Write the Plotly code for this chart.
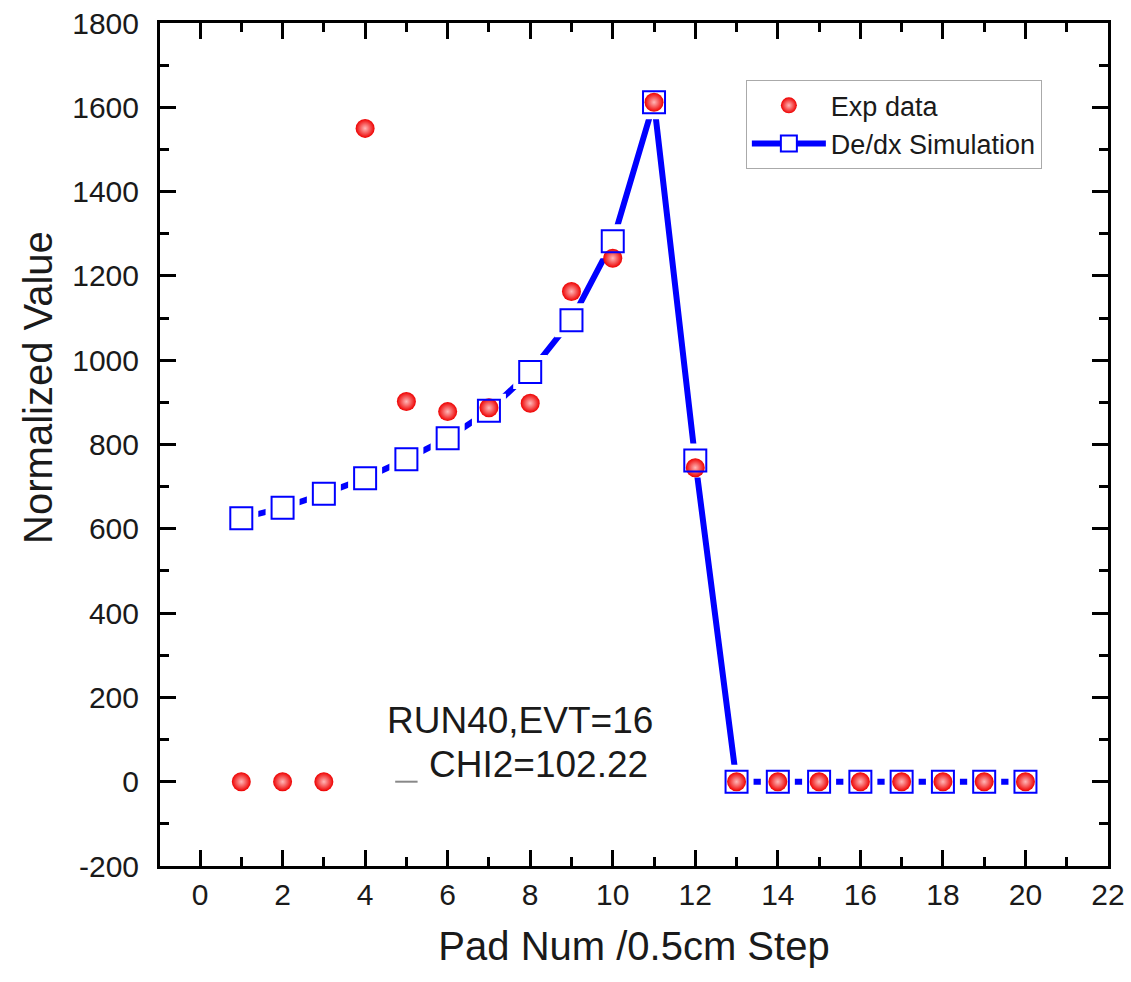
import plotly.graph_objects as go

pads = list(range(1, 21))
exp_values = [0, 0, 0, 1550, 902, 878, 887, 898, 1163, 1242, 1612, 745,
              0, 0, 0, 0, 0, 0, 0, 0]
sim_values = [625, 650, 683, 720, 765, 815, 880, 972, 1095, 1282, 1612, 762,
              0, 0, 0, 0, 0, 0, 0, 0]
dash_x = [5]
dash_y = [0]
x_ticks = list(range(0, 23, 2))
y_ticks = list(range(-200, 1801, 200))
y_ticktext = [str(v) for v in y_ticks]

FONT = "Liberation Sans, Arial, sans-serif"
BLUE = "#0000ff"
TXT = "#1a1a1a"

fig = go.Figure()

# simulation line (with legend entry)
fig.add_trace(go.Scatter(
    x=pads, y=sim_values, mode="lines+markers", name="De/dx Simulation",
    line=dict(color=BLUE, width=6),
    marker=dict(symbol="square", size=22, color="white",
                line=dict(color=BLUE, width=2)),
    legendrank=2,
))
# white gaps around symbols
fig.add_trace(go.Scatter(
    x=pads, y=sim_values, mode="markers", showlegend=False, hoverinfo="skip",
    marker=dict(symbol="square", size=34, color="white", line=dict(width=0)),
))
# experimental data
fig.add_trace(go.Scatter(
    x=pads, y=exp_values, mode="markers", name="Exp data",
    marker=dict(symbol="circle", size=19, color="#ee0000",
                gradient=dict(type="radial", color="#ffb8b8"),
                line=dict(width=0)),
    legendrank=1,
))
# hollow squares on top
fig.add_trace(go.Scatter(
    x=pads, y=sim_values, mode="markers", showlegend=False, hoverinfo="skip",
    marker=dict(symbol="square-open", size=22, color=BLUE,
                line=dict(color=BLUE, width=2)),
))
# small grey dash artifact
fig.add_trace(go.Scatter(
    x=dash_x, y=dash_y, mode="markers", showlegend=False, hoverinfo="skip",
    marker=dict(symbol="line-ew", size=16, color="#888888",
                line=dict(color="#888888", width=2)),
))

fig.add_annotation(
    x=0.237, y=0.173, xref="paper", yref="paper", xanchor="left", yanchor="middle",
    text="RUN40,EVT=16", showarrow=False,
    font=dict(family=FONT, size=37, color=TXT),
)
fig.add_annotation(
    x=0.282, y=0.120, xref="paper", yref="paper", xanchor="left", yanchor="middle",
    text="CHI2=102.22", showarrow=False,
    font=dict(family=FONT, size=37, color=TXT),
)
# y-axis title
fig.add_annotation(
    x=-0.129, y=0.568, xref="paper", yref="paper", xanchor="center", yanchor="middle",
    text="Normalized Value", showarrow=False, textangle=-90,
    font=dict(family=FONT, size=40, color=TXT),
)

axis_common = dict(
    showline=True, linecolor="black", linewidth=3, mirror="allticks",
    ticks="inside", ticklen=16, tickwidth=3, tickcolor="black",
    showgrid=False, zeroline=False, automargin=False,
    tickfont=dict(family=FONT, size=30, color=TXT),
)

fig.update_xaxes(
    range=[-0.97, 22], tickvals=x_ticks,
    minor=dict(ticks="inside", ticklen=9, tickwidth=3, tickcolor="black", dtick=1, tick0=0,
               showgrid=False),
    title=dict(text="Pad Num /0.5cm Step", font=dict(family=FONT, size=40, color=TXT),
               standoff=22),
    **axis_common,
)
fig.update_yaxes(
    range=[-200, 1800], tickvals=y_ticks, ticktext=y_ticktext,
    ticklabelstandoff=12,
    minor=dict(ticks="inside", ticklen=9, tickwidth=3, tickcolor="black", dtick=100, tick0=0,
               showgrid=False),
    **axis_common,
)

fig.update_layout(
    width=1131, height=982,
    margin=dict(l=160, r=23, t=23, b=116, autoexpand=False),
    paper_bgcolor="white", plot_bgcolor="white",
    legend=dict(x=0.618, y=0.932, xanchor="left", yanchor="top",
                bordercolor="#aaaaaa", borderwidth=1, bgcolor="white",
                font=dict(family=FONT, size=27, color=TXT),
                itemwidth=74, tracegroupgap=0),
    showlegend=True,
)

fig.write_html("out.html")
